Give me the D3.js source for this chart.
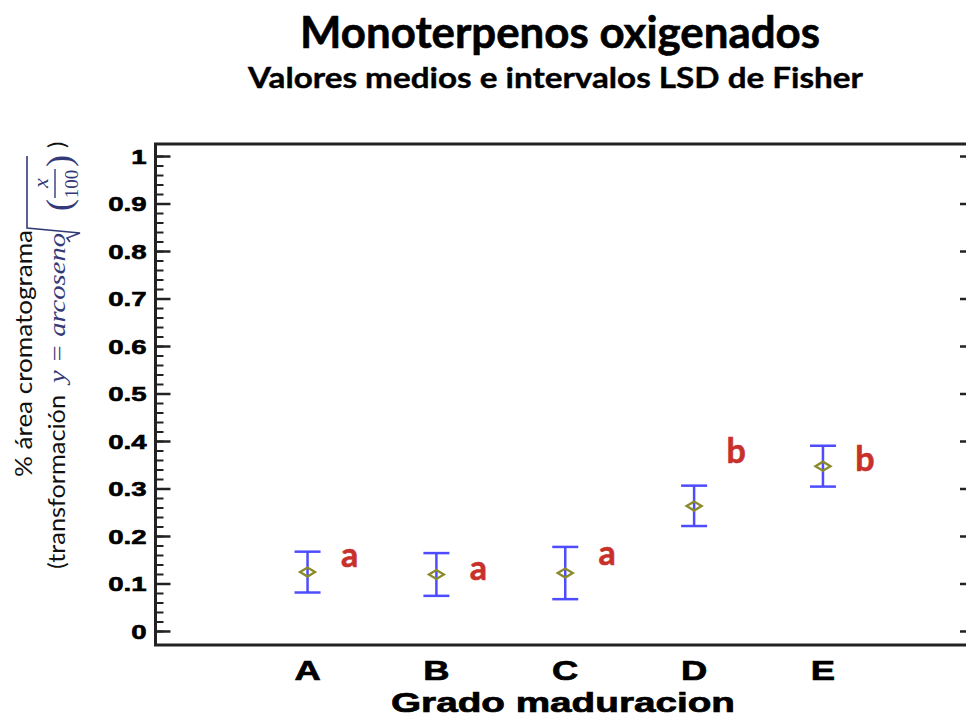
<!DOCTYPE html>
<html>
<head>
<meta charset="utf-8">
<script src="https://cdn.jsdelivr.net/npm/d3@7"></script>
<style>
  html, body { margin: 0; padding: 0; background: #fff; }
  svg { display: block; }
</style>
</head>
<body>
<div id="chart"></div>
<script>
// chart values
const categories = ["A", "B", "C", "D", "E"];
const means = [0.124, 0.119, 0.122, 0.263, 0.347];
const lower = [0.081, 0.074, 0.067, 0.221, 0.304];
const upper = [0.167, 0.164, 0.177, 0.306, 0.390];
const groupLetters = ["a", "a", "a", "b", "b"];
const letterAt = [0.135, 0.107, 0.139, 0.354, 0.337];
const yTicks = [0, 0.1, 0.2, 0.3, 0.4, 0.5, 0.6, 0.7, 0.8, 0.9, 1];
const yTickLabels = ["0", "0.1", "0.2", "0.3", "0.4", "0.5", "0.6", "0.7", "0.8", "0.9", "1"];

var W = 966, H = 718;
var frame = { left: 155.5, right: 975, top: 144, bottom: 645 };

var svg = d3.select("#chart").append("svg")
  .attr("width", W)
  .attr("height", H)
  .style("font-family", "'Liberation Sans', Arial, sans-serif");

var x = d3.scaleLinear()
  .domain([-1.18, categories.length - 1 + 1.18])
  .range([frame.left, frame.right]);

var y = d3.scaleLinear()
  .domain([-0.0295, 1.0253])
  .range([frame.bottom, frame.top]);

// titles
svg.append("text")
  .attr("x", 300).attr("y", 48)
  .attr("textLength", 520).attr("lengthAdjust", "spacingAndGlyphs")
  .style("font-family", "Lato, 'Open Sans', sans-serif")
  .style("font-weight", 700).style("font-size", "43px")
  .attr("stroke", "#000").attr("stroke-width", 0.6)
  .text("Monoterpenos oxigenados");

svg.append("text")
  .attr("x", 248).attr("y", 88)
  .attr("textLength", 615).attr("lengthAdjust", "spacingAndGlyphs")
  .style("font-family", "Lato, 'Open Sans', sans-serif")
  .style("font-weight", 700).style("font-size", "29px")
  .attr("stroke", "#000").attr("stroke-width", 0.4)
  .text("Valores medios e intervalos LSD de Fisher");

// minor ticks
var minorTicks = d3.range(0, 51).map(i => i / 50);
svg.append("g")
  .attr("transform", "translate(" + frame.left + ",0)")
  .call(d3.axisLeft(y).tickValues(minorTicks).tickFormat("").tickSizeInner(-8).tickSizeOuter(0))
  .call(g => g.select(".domain").remove())
  .call(g => g.selectAll("line").attr("stroke", "#222").attr("stroke-width", 2));

svg.append("g")
  .attr("transform", "translate(" + frame.right + ",0)")
  .call(d3.axisRight(y).tickValues(minorTicks).tickFormat("").tickSizeInner(-8).tickSizeOuter(0))
  .call(g => g.select(".domain").remove())
  .call(g => g.selectAll("line").attr("stroke", "#222").attr("stroke-width", 2));

// major ticks + labels
svg.append("g")
  .attr("transform", "translate(" + frame.left + ",0)")
  .call(d3.axisLeft(y).tickValues(yTicks).tickFormat((d, i) => yTickLabels[i]).tickSizeInner(-15).tickSizeOuter(0))
  .call(g => g.select(".domain").remove())
  .call(g => g.selectAll("line").attr("stroke", "#222").attr("stroke-width", 2.5))
  .call(g => g.selectAll("text")
    .attr("x", 0)
    .attr("dy", "0.36em")
    .attr("transform", "translate(-9,0) scale(1.38,1)")
    .attr("fill", "#000")
    .attr("stroke", "#000").attr("stroke-width", 0.6)
    .style("font-size", "20px")
    .style("font-weight", 700)
    .style("font-family", "'Liberation Sans', Arial, sans-serif"));

svg.append("g")
  .attr("transform", "translate(" + frame.right + ",0)")
  .call(d3.axisRight(y).tickValues(yTicks).tickFormat("").tickSizeInner(-15).tickSizeOuter(0))
  .call(g => g.select(".domain").remove())
  .call(g => g.selectAll("line").attr("stroke", "#222").attr("stroke-width", 2.5));

// frame
svg.append("rect")
  .attr("x", frame.left).attr("y", frame.top)
  .attr("width", frame.right - frame.left)
  .attr("height", frame.bottom - frame.top)
  .attr("fill", "none")
  .attr("stroke", "#222")
  .attr("stroke-width", 3);

// x category labels
svg.append("g")
  .selectAll("text")
  .data(categories)
  .enter()
  .append("text")
    .attr("text-anchor", "middle")
    .attr("transform", (d, i) => "translate(" + x(i) + ",680) scale(1.3,1)")
    .attr("stroke", "#000").attr("stroke-width", 0.7)
    .style("font-size", "28px")
    .style("font-weight", 700)
    .text(d => d);

svg.append("text")
  .attr("x", 391).attr("y", 712)
  .attr("textLength", 344).attr("lengthAdjust", "spacingAndGlyphs")
  .attr("stroke", "#000").attr("stroke-width", 0.7)
  .style("font-size", "28px").style("font-weight", 700)
  .text("Grado maduracion");

// y axis label, line 1
var lab1 = svg.append("g").attr("transform", "translate(32,477) rotate(-90)");
lab1.append("text")
  .attr("x", 0).attr("y", 0)
  .attr("textLength", 247).attr("lengthAdjust", "spacingAndGlyphs")
  .style("font-family", "Lato, 'Open Sans', sans-serif")
  .style("font-size", "24px")
  .attr("fill", "#111")
  .text("% área cromatograma");

// y axis label, line 2 with the formula
var mathColor = "#343a78";
var lab2 = svg.append("g").attr("transform", "translate(65,569) rotate(-90)");
lab2.append("text")
  .attr("x", 0).attr("y", 0)
  .attr("textLength", 174).attr("lengthAdjust", "spacingAndGlyphs")
  .style("font-family", "Lato, 'Open Sans', sans-serif")
  .style("font-size", "24px")
  .attr("fill", "#111")
  .text("(transformación");

lab2.append("text")
  .attr("x", 186).attr("y", 0)
  .attr("textLength", 150).attr("lengthAdjust", "spacingAndGlyphs")
  .style("font-family", "'Liberation Serif', 'DejaVu Serif', serif")
  .style("font-style", "italic")
  .style("font-size", "24px")
  .attr("fill", mathColor)
  .text("y = arcoseno");

// radical sign
lab2.append("path")
  .attr("d", "M327,5 L331,2 L336,15 L341,-38 L413,-38")
  .attr("fill", "none")
  .attr("stroke", mathColor)
  .attr("stroke-width", 1.6);

var mathText = (u, v, s, size, italic) => lab2.append("text")
  .attr("x", u).attr("y", v)
  .attr("text-anchor", "middle")
  .style("font-family", "'Liberation Serif', 'DejaVu Serif', serif")
  .style("font-style", italic ? "italic" : "normal")
  .style("font-size", size + "px")
  .attr("fill", mathColor)
  .text(s);

mathText(364, 6, "(", 36, false);
mathText(408, 6, ")", 36, false);
mathText(386, -17, "x", 22, true);
mathText(385, 13, "100", 19, false);
lab2.append("line")
  .attr("x1", 371).attr("x2", 400)
  .attr("y1", -10).attr("y2", -10)
  .attr("stroke", mathColor).attr("stroke-width", 1.4);

lab2.append("text")
  .attr("x", 421).attr("y", 0)
  .style("font-family", "Lato, 'Open Sans', sans-serif")
  .style("font-size", "24px")
  .attr("fill", "#111")
  .text(")");

// LSD intervals
var blue = "#4d4dff";
var capHalf = 13;
var bars = svg.append("g");
categories.forEach(function(c, i) {
  var cx = x(i);
  bars.append("line")
    .attr("x1", cx).attr("x2", cx)
    .attr("y1", y(lower[i])).attr("y2", y(upper[i]))
    .attr("stroke", blue).attr("stroke-width", 2.5);
  [lower[i], upper[i]].forEach(function(v) {
    bars.append("line")
      .attr("x1", cx - capHalf).attr("x2", cx + capHalf)
      .attr("y1", y(v)).attr("y2", y(v))
      .attr("stroke", blue).attr("stroke-width", 2.5);
  });
  var my = y(means[i]);
  bars.append("path")
    .attr("d", "M" + (cx - 7.5) + "," + my + " L" + cx + "," + (my - 4.5) +
      " L" + (cx + 7.5) + "," + my + " L" + cx + "," + (my + 4.5) + "Z")
    .attr("fill", "none")
    .attr("stroke", "#8a8a2a")
    .attr("stroke-width", 2.3);
});

// group letters
svg.append("g")
  .selectAll("text")
  .data(groupLetters)
  .enter()
  .append("text")
    .attr("x", (d, i) => x(i) + 42)
    .attr("y", (d, i) => y(letterAt[i]))
    .attr("text-anchor", "middle")
    .attr("fill", "#c8312b")
    .attr("stroke", "#c8312b").attr("stroke-width", 0.6)
    .style("font-family", "Lato, 'Open Sans', sans-serif")
    .style("font-weight", 700)
    .style("font-size", "34px")
    .text(d => d);
</script>
</body>
</html>
